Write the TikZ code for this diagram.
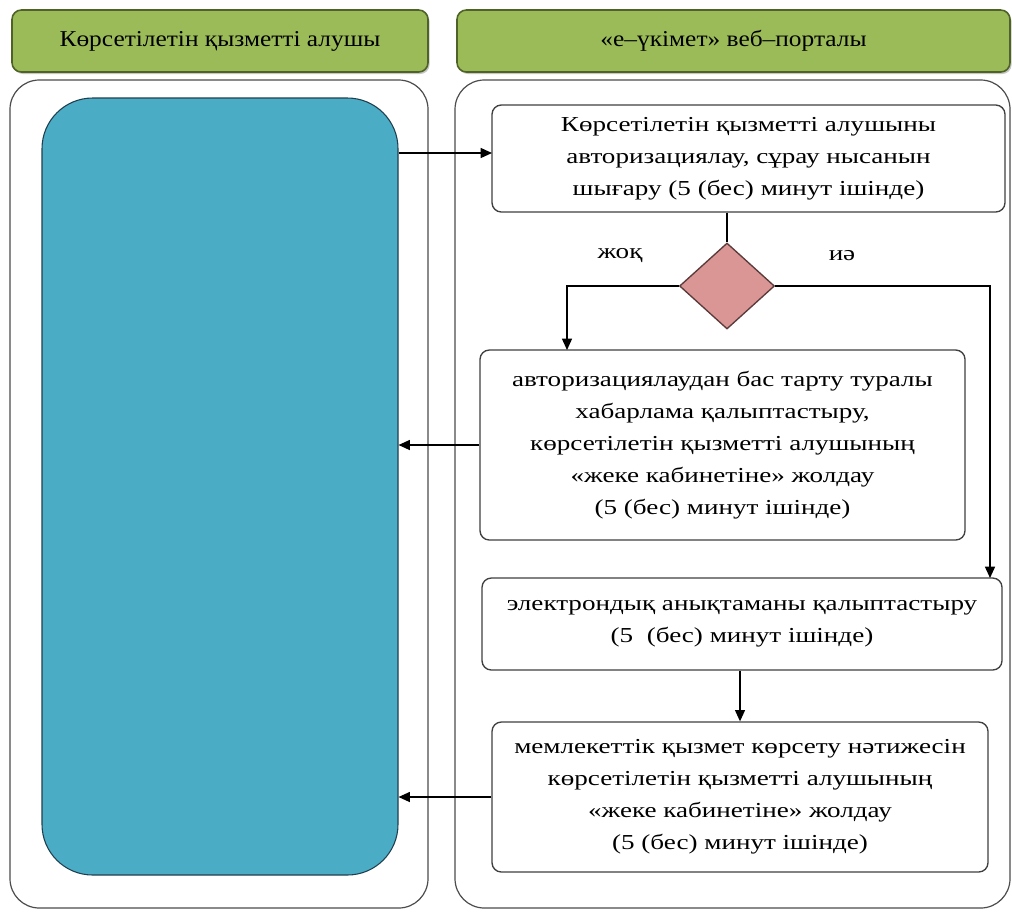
\documentclass[tikz,border=0pt]{standalone}
\usepackage{fontspec}
\setmainfont{Liberation Serif}[FakeStretch=1.27]
\newfontfamily\hdrfont{Liberation Serif}[FakeStretch=1.12]
\usetikzlibrary{shapes.geometric,arrows.meta,shadows}
\definecolor{hdrgreen}{HTML}{9BBB59}
\definecolor{hdrborder}{HTML}{4F6228}
\definecolor{laneblue}{HTML}{4BACC6}
\definecolor{blueborder}{HTML}{1F3F4F}
\definecolor{diafill}{HTML}{D99694}
\definecolor{diaborder}{HTML}{5A3A3A}
\newcommand\bodyfont{\rmfamily\fontsize{16}{24}\selectfont}
\newcommand\headfont{\hdrfont\fontsize{17}{24}\selectfont}
\begin{document}
\begin{tikzpicture}[x=0.75pt,y=-0.75pt,
  lane/.style={draw=black!70, line width=0.9pt, rounded corners=22pt, fill=white, inner sep=0pt},
  hdr/.style={draw=hdrborder, line width=1.2pt, fill=hdrgreen, rounded corners=7pt, inner sep=0pt, font=\headfont,
    drop shadow={shadow xshift=1.2pt, shadow yshift=-1.5pt, opacity=0.45}},
  stepbox/.style={draw=black!75, line width=1pt, rounded corners=7pt, fill=white, align=center, font=\bodyfont, inner sep=0pt},
  lbl/.style={font=\bodyfont, inner sep=0pt},
  arr/.style={line width=1pt, -{Triangle[length=8.5pt,width=7.5pt]}},
  conn/.style={line width=1pt}]
\useasboundingbox (0,0) rectangle (1012,911);

% headers
\node[hdr, minimum width=312pt, minimum height=46.5pt] (hL) at (220,41) {Көрсетілетін қызметті алушы};
\node[hdr, minimum width=414.75pt, minimum height=46.5pt] (hR) at (733.5,41) {«е–үкімет» веб–порталы};

% lanes
\node[lane, minimum width=313.5pt, minimum height=621pt] (laneL) at (219,494) {};
\node[lane, minimum width=416.25pt, minimum height=621pt] (laneR) at (732.5,494) {};

% blue actor box
\node[draw=blueborder, line width=0.8pt, fill=laneblue, rounded corners=38pt, minimum width=267pt, minimum height=582.75pt, inner sep=0pt] (blue) at (220,486.5) {};

% steps
\node[stepbox, minimum width=384.75pt, minimum height=80.25pt] (b1) at (748.5,158.5)
  {Көрсетілетін қызметті алушыны\\авторизациялау, сұрау нысанын\\шығару (5 (бес) минут ішінде)};
\node[draw=diaborder, line width=1pt, fill=diafill, diamond, minimum width=71.25pt, minimum height=64.5pt, inner sep=0pt] (dia) at (727,286) {};
\node[lbl] (no) at (620,256) {жоқ};
\node[lbl] (yes) at (842,256) {иә};
\node[stepbox, minimum width=363.75pt, minimum height=142.5pt] (b2) at (722.5,445)
  {авторизациялаудан бас тарту туралы\\хабарлама қалыптастыру,\\көрсетілетін қызметті алушының\\«жеке кабинетіне» жолдау\\(5 (бес) минут ішінде)};
\node[stepbox, minimum width=390pt, minimum height=69pt] (b3) at (742,624)
  {электрондық анықтаманы қалыптастыру\\(5\ \ (бес) минут ішінде)};
\node[stepbox, minimum width=372pt, minimum height=112.5pt] (b4) at (740,797)
  {мемлекеттік қызмет көрсету нәтижесін\\көрсетілетін қызметті алушының\\«жеке кабинетіне» жолдау\\(5 (бес) минут ішінде)};

\coordinate (c2) at (567,350);
\coordinate (c3) at (990,578);
\coordinate (c1) at (492,153);

% connectors
\draw[arr] (blue.east |- c1) -- (c1);
\draw[conn] (b1.south -| dia.north) -- (dia.north);
\draw[arr] (dia.west) -| (c2);
\draw[arr] (dia.east) -| (c3);
\draw[arr] (b2.west) -- (blue.east |- b2.west);
\draw[arr] (b3.south -| b4.north) -- (b4.north);
\draw[arr] (b4.west) -- (blue.east |- b4.west);
\end{tikzpicture}
\end{document}
